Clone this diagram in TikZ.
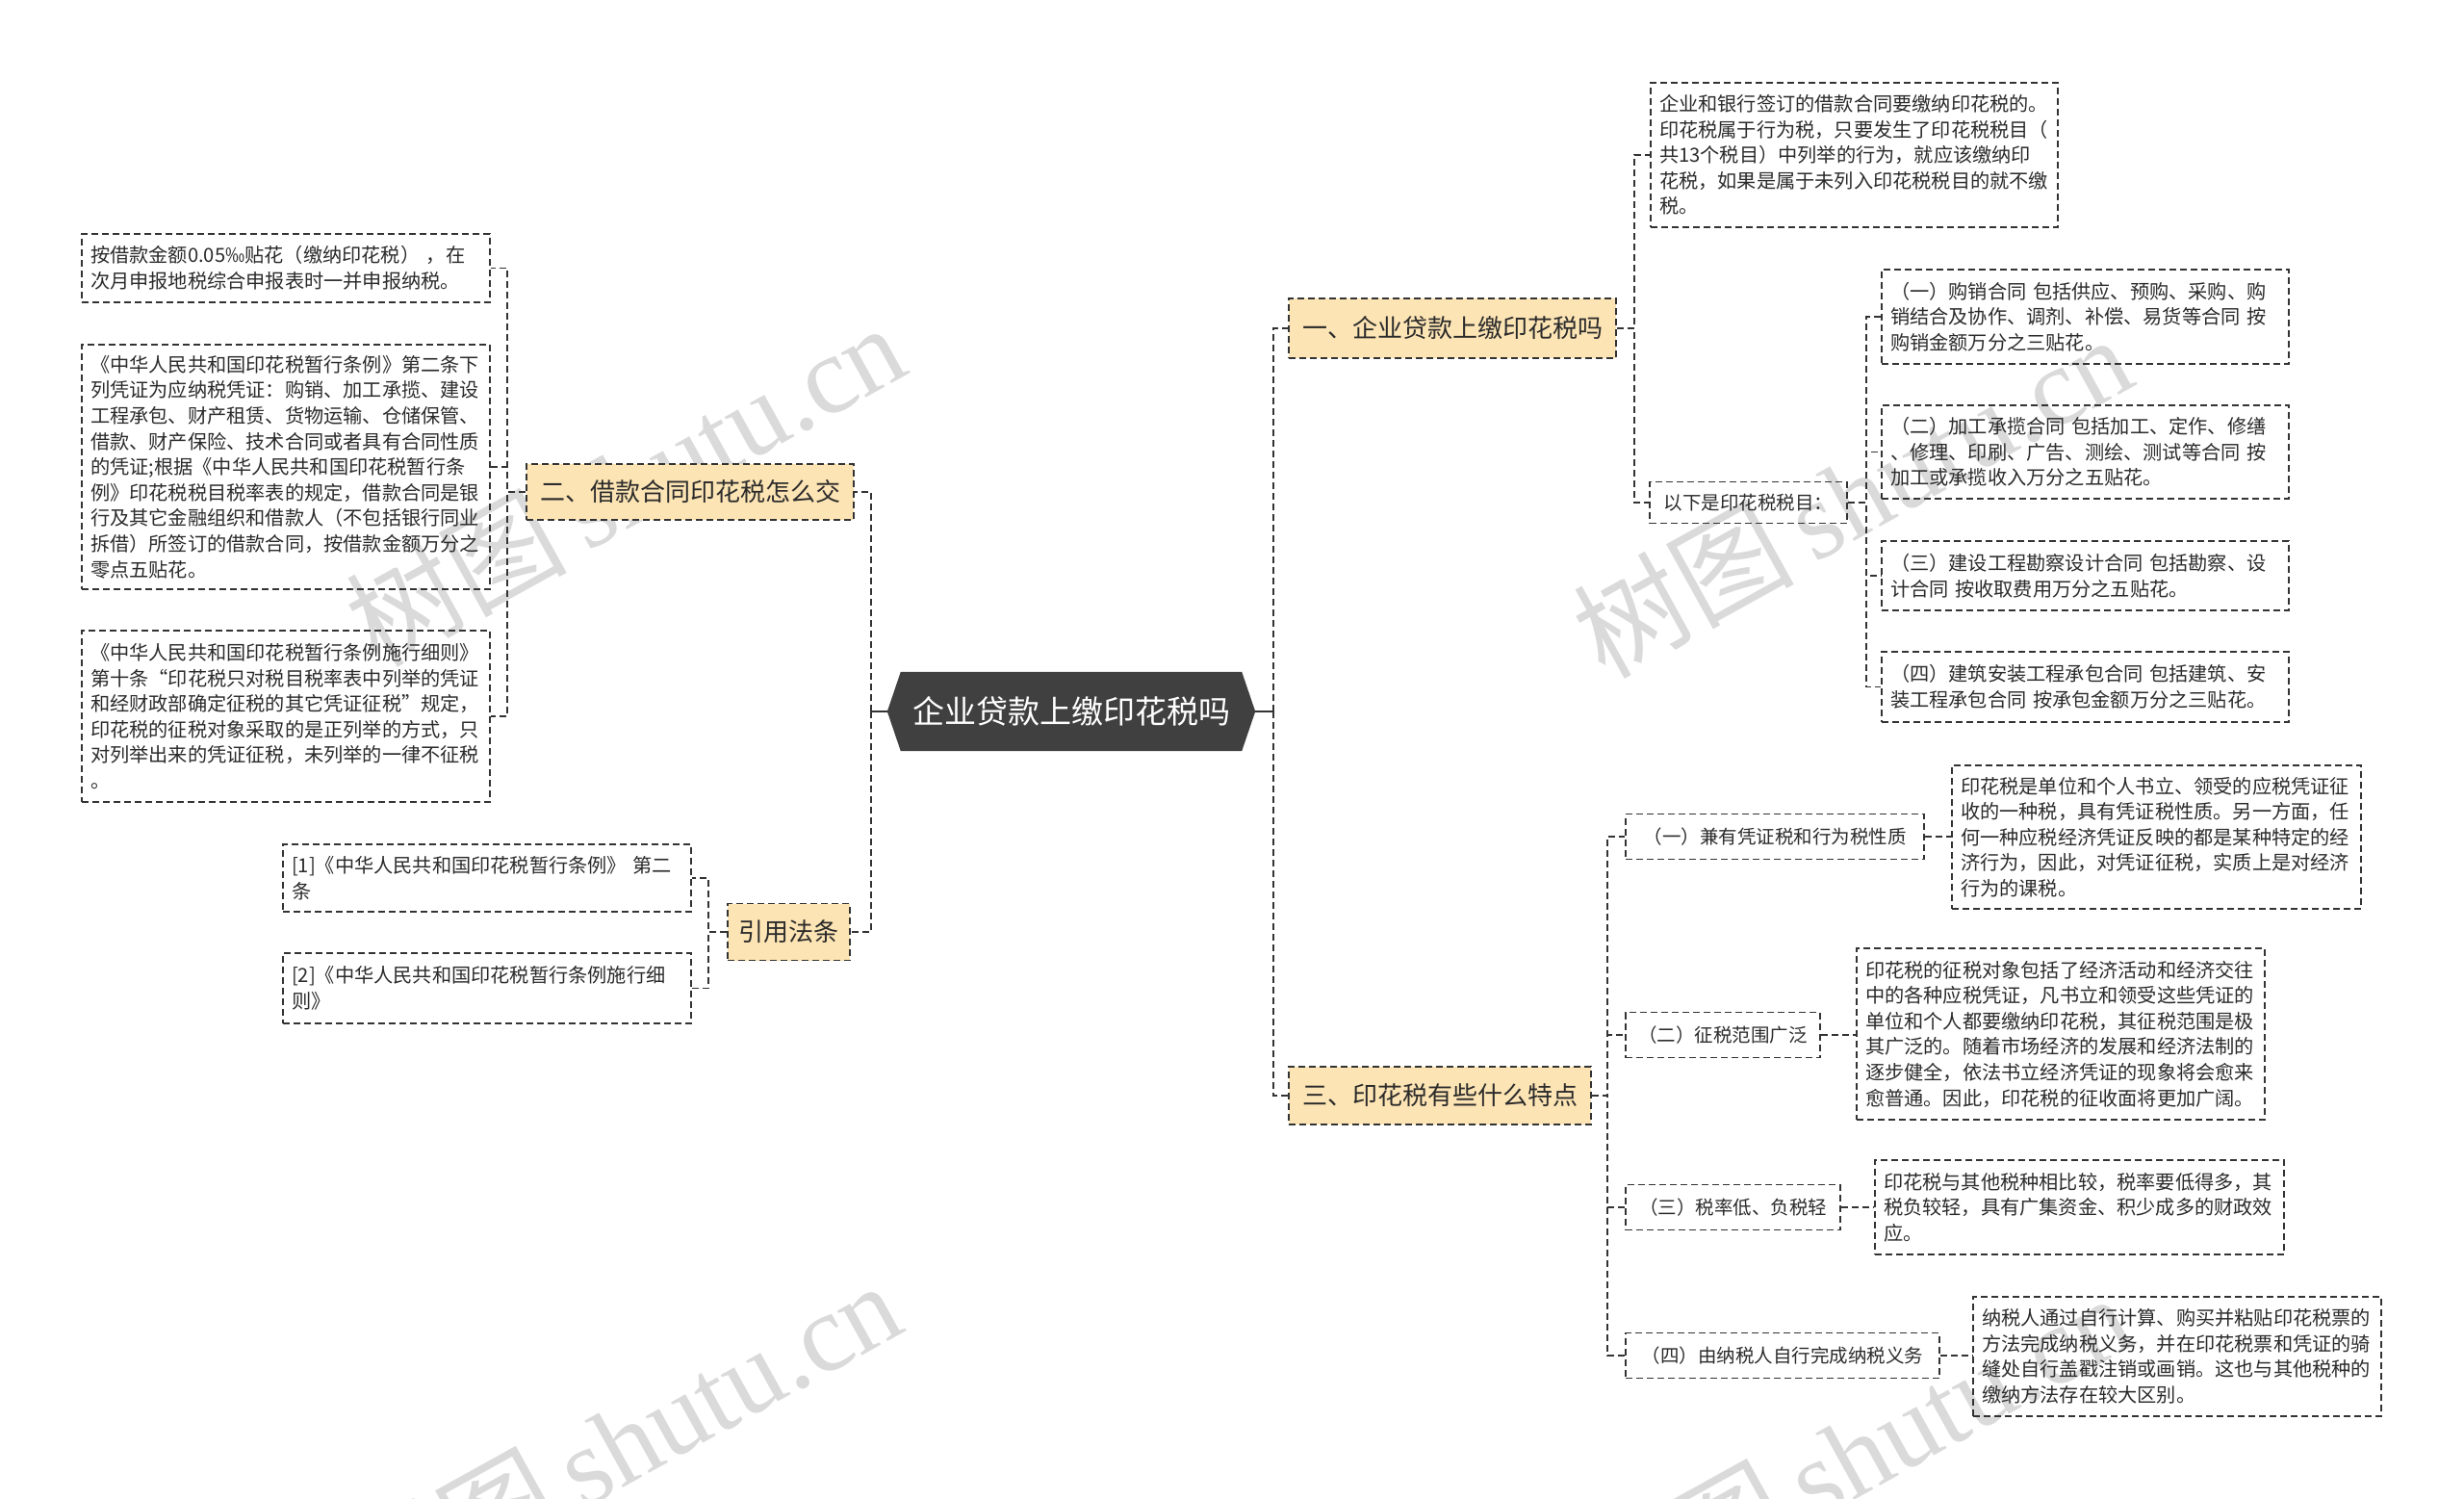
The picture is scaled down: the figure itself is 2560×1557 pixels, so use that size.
\documentclass[tikz,border=0pt]{standalone}
\usepackage{fontspec}
\setmainfont{Noto Sans CJK SC}
\newfontfamily\wmserif{Liberation Serif}
\usetikzlibrary{backgrounds}
\definecolor{linec}{HTML}{333333}
\definecolor{orangefill}{HTML}{FCE4B4}
\definecolor{rootfill}{HTML}{404040}
\definecolor{wmc}{HTML}{DADADA}
\definecolor{txtc}{HTML}{2B2B2B}
\begin{document}
\begin{tikzpicture}[x=1pt,y=-1pt,
  dline/.style={draw=linec, line width=1.8pt, dash pattern=on 7pt off 4pt},
  leaf/.style={dline, inner sep=0pt, align=left, text=txtc, font=\fontsize{20.2}{26.6}\selectfont},
  lbl/.style={dline, inner sep=0pt, minimum height=47pt, text=txtc, font=\fontsize{19.5}{24}\selectfont},
  topic/.style={dline, fill=orangefill, inner sep=0pt, text=txtc, font=\fontsize{26}{30}\selectfont},
  conn/.style={dline},
  stub/.style={draw=linec, line width=1.8pt},
  wm/.style={text=wmc, rotate=29, inner sep=0pt},
]
\useasboundingbox (0,0) rectangle (2560,1557);

% watermarks
\foreach \n/\px/\py in {a/649/502, b/1924/514, c/645/1497, d/1924/1510}{
  \node[wm] (wm\n) at (\px,\py) {\fontsize{115}{115}\selectfont 树图\,\wmserif shutu.cn};
}

% root
\node[inner sep=0pt, minimum width=354pt, minimum height=82pt, text=white,
      font=\fontsize{33}{36}\selectfont] (root) at (1113,739) {企业贷款上缴印花税吗};
\begin{scope}[on background layer]
\fill[white] (0,0) rectangle (2560,1557);
\fill[rootfill] (root.north west) -- (root.north east) -- ([xshift=14pt]root.east)
  -- (root.south east) -- (root.south west) -- ([xshift=-14pt]root.west) -- cycle;
\end{scope}
\coordinate (rootL) at ([xshift=-14pt]root.west);
\coordinate (rootR) at ([xshift=14pt]root.east);
\coordinate (jL) at ([xshift=-17pt]rootL);
\coordinate (jR) at ([xshift=19pt]rootR);

% topics
\node[topic, minimum width=340pt, minimum height=62pt] (N1) at (1509,341) {一、企业贷款上缴印花税吗};
\node[topic, minimum width=340pt, minimum height=58pt] (N2) at (717,511) {二、借款合同印花税怎么交};
\node[topic, minimum width=314pt, minimum height=60pt] (N3) at (1496,1138) {三、印花税有些什么特点};
\node[topic, minimum width=127pt, minimum height=59pt] (N4) at (819.5,968) {引用法条};

% branch 1
\node[leaf, minimum width=423pt, minimum height=150pt, text width=405pt] (top) at (1926.5,161) {企业和银行签订的借款合同要缴纳印花税的。\\印花税属于行为税，只要发生了印花税税目（\\共13个税目）中列举的行为，就应该缴纳印\\花税，如果是属于未列入印花税税目的就不缴\\税。};
\node[lbl, minimum width=205pt, minimum height=43pt] (X) at (1816.5,522) {以下是印花税税目：};
\node[leaf, minimum width=423pt, minimum height=98pt, text width=405pt] (B1) at (2166.5,329) {（一）购销合同 包括供应、预购、采购、购\\销结合及协作、调剂、补偿、易货等合同 按\\购销金额万分之三贴花。};
\node[leaf, minimum width=423pt, minimum height=97pt, text width=405pt] (B2) at (2166.5,469.5) {（二）加工承揽合同 包括加工、定作、修缮\\、修理、印刷、广告、测绘、测试等合同 按\\加工或承揽收入万分之五贴花。};
\node[leaf, minimum width=423pt, minimum height=72pt, text width=405pt] (B3) at (2166.5,598) {（三）建设工程勘察设计合同 包括勘察、设\\计合同 按收取费用万分之五贴花。};
\node[leaf, minimum width=423pt, minimum height=73pt, text width=405pt] (B4) at (2166.5,713.5) {（四）建筑安装工程承包合同 包括建筑、安\\装工程承包合同 按承包金额万分之三贴花。};

% branch 2
\node[leaf, minimum width=424pt, minimum height=71pt, text width=406pt] (L1) at (297,278.5) {按借款金额0.05‰贴花（缴纳印花税） ，在\\次月申报地税综合申报表时一并申报纳税。};
\node[leaf, minimum width=424pt, minimum height=254pt, text width=406pt] (L2) at (297,485) {《中华人民共和国印花税暂行条例》第二条下\\列凭证为应纳税凭证：购销、加工承揽、建设\\工程承包、财产租赁、货物运输、仓储保管、\\借款、财产保险、技术合同或者具有合同性质\\的凭证;根据《中华人民共和国印花税暂行条\\例》印花税税目税率表的规定，借款合同是银\\行及其它金融组织和借款人（不包括银行同业\\拆借）所签订的借款合同，按借款金额万分之\\零点五贴花。};
\node[leaf, minimum width=424pt, minimum height=178pt, text width=406pt] (L3) at (297,744) {《中华人民共和国印花税暂行条例施行细则》\\第十条“印花税只对税目税率表中列举的凭证\\和经财政部确定征税的其它凭证征税”规定，\\印花税的征税对象采取的是正列举的方式，只\\对列举出来的凭证征税，未列举的一律不征税\\。};

% references
\node[leaf, minimum width=424pt, minimum height=70pt, text width=406pt] (R1) at (506,912) {[1]《中华人民共和国印花税暂行条例》 第二\\条};
\node[leaf, minimum width=424pt, minimum height=73pt, text width=406pt] (R2) at (506,1026.5) {[2]《中华人民共和国印花税暂行条例施行细\\则》};

% branch 3
\node[lbl, minimum width=310pt] (C1) at (1844,869) {（一）兼有凭证税和行为税性质};
\node[lbl, minimum width=202pt] (C2) at (1790,1075) {（二）征税范围广泛};
\node[lbl, minimum width=223pt] (C3) at (1800.5,1254) {（三）税率低、负税轻};
\node[lbl, minimum width=326pt] (C4) at (1852,1408) {（四）由纳税人自行完成纳税义务};
\node[leaf, minimum width=425pt, minimum height=149pt, text width=407pt] (T1) at (2240.5,869.5) {印花税是单位和个人书立、领受的应税凭证征\\收的一种税，具有凭证税性质。另一方面，任\\何一种应税经济凭证反映的都是某种特定的经\\济行为，因此，对凭证征税，实质上是对经济\\行为的课税。};
\node[leaf, minimum width=424pt, minimum height=178pt, text width=406pt] (T2) at (2141,1074) {印花税的征税对象包括了经济活动和经济交往\\中的各种应税凭证，凡书立和领受这些凭证的\\单位和个人都要缴纳印花税，其征税范围是极\\其广泛的。随着市场经济的发展和经济法制的\\逐步健全，依法书立经济凭证的现象将会愈来\\愈普通。因此，印花税的征收面将更加广阔。};
\node[leaf, minimum width=425pt, minimum height=98pt, text width=407pt] (T3) at (2160.5,1254) {印花税与其他税种相比较，税率要低得多，其\\税负较轻，具有广集资金、积少成多的财政效\\应。};
\node[leaf, minimum width=424pt, minimum height=124pt, text width=406pt] (T4) at (2262,1409) {纳税人通过自行计算、购买并粘贴印花税票的\\方法完成纳税义务，并在印花税票和凭证的骑\\缝处自行盖戳注销或画销。这也与其他税种的\\缴纳方法存在较大区别。};

% connectors
\draw[stub] (rootL) -- (jL);
\draw[stub] (rootR) -- (jR);
\draw[conn] (jL) |- (N2.east);
\draw[conn] (jL) |- (N4.east);
\draw[conn] (jR) |- (N1.west);
\draw[conn] (jR) |- (N3.west);

\draw[conn] (N1.east) -- ++(18,0) |- (top.west);
\draw[conn] (N1.east) -- ++(18,0) |- (X.west);
\foreach \b in {B1,B2,B3,B4}{ \draw[conn] (X.east) -- ++(19,0) |- (\b.west); }

\foreach \b in {L1,L2,L3}{ \draw[conn] (N2.west) -- ++(-19,0) |- (\b.east); }
\foreach \b in {R1,R2}{ \draw[conn] (N4.west) -- ++(-19,0) |- (\b.east); }

\foreach \b in {C1,C2,C3,C4}{ \draw[conn] (N3.east) -- ++(16,0) |- (\b.west); }
\draw[conn] (C1.east) -- (C1.east -| T1.west);
\draw[conn] (C2.east) -- (C2.east -| T2.west);
\draw[conn] (C3.east) -- (C3.east -| T3.west);
\draw[conn] (C4.east) -- (C4.east -| T4.west);
\end{tikzpicture}
\end{document}
